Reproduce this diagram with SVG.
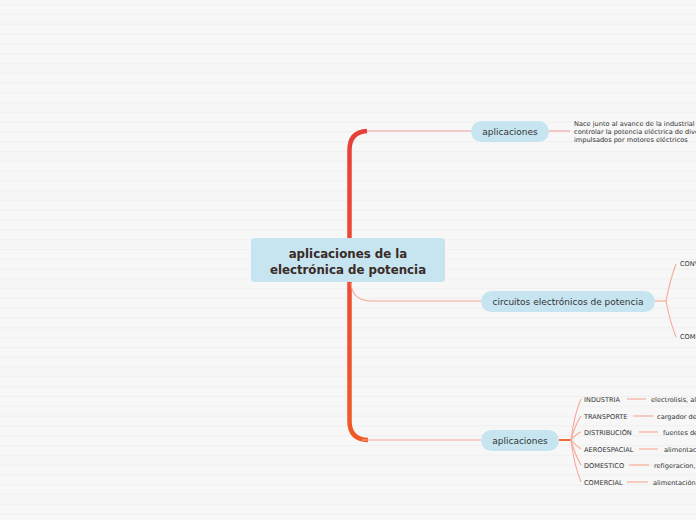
<svg xmlns="http://www.w3.org/2000/svg" width="696" height="520" viewBox="0 0 696 520">
<defs>
<pattern id="bg" width="10" height="9.8" patternUnits="userSpaceOnUse">
<rect width="10" height="9.8" fill="#f7f7f7"/>
<rect y="4" width="10" height="1" fill="#f0f0f0"/>
</pattern>
<linearGradient id="trunk" x1="0" y1="131" x2="0" y2="440" gradientUnits="userSpaceOnUse">
<stop offset="0" stop-color="#e8403a"/>
<stop offset="1" stop-color="#f05a26"/>
</linearGradient>
</defs>
<style>
.node{fill:#c6e5f0}
.t{font-family:"DejaVu Sans",Verdana,sans-serif;fill:#333}
.main{font-size:11.8px;font-weight:bold;fill:#3a2a26}
.n{font-size:9px}
.s{font-size:6.6px}
.d{font-size:6.6px}
.thin{fill:none;stroke:#f6a996;stroke-width:1.1}
.top{fill:none;stroke:#f3a09c;stroke-width:1.1}
</style>
<rect width="696" height="520" fill="url(#bg)"/>
<g id="connectors">
<path class="top" d="M360,131 H471"/>
<path d="M349.5,240 V150 Q349.5,132 367,131" fill="none" stroke="url(#trunk)" stroke-width="4.5"/>
<path d="M349.5,280 V421 Q349.5,439.5 368,440" fill="none" stroke="url(#trunk)" stroke-width="4.5"/>
<path class="thin" d="M362,440 H481"/>
<path class="thin" d="M351,283 Q352,300 370,301 H481"/>
<path class="top" d="M549,131 H570"/>
<path class="thin" d="M655,301 H667"/>
<path class="thin" d="M666,301 Q670,280 676,264"/>
<path class="thin" d="M666,301 Q670,322 676,337"/>
<path d="M559,440 H572" fill="none" stroke="#f06a36" stroke-width="2"/>
<g class="thin">
<path d="M571,440 Q574,415 581,399"/>
<path d="M571,440 Q575,425 581,416"/>
<path d="M571,440 Q576,434 581,432"/>
<path d="M571,440 Q576,446 581,449"/>
<path d="M571,440 Q575,455 581,465"/>
<path d="M571,440 Q574,465 581,482"/>
<path d="M627,399 H646"/>
<path d="M633,416 H653"/>
<path d="M639,432 H658"/>
<path d="M639,449 H658"/>
<path d="M629,465 H649"/>
<path d="M627,482 H648"/>
</g>
</g>
<g id="central">
<rect class="node" x="251" y="238" width="194" height="44" rx="4"/>
<text class="t main" x="348" y="257.5" text-anchor="middle">aplicaciones de la</text>
<text class="t main" x="348" y="273.5" text-anchor="middle">electrónica de potencia</text>
</g>
<g id="aplicaciones1">
<rect class="node" x="471" y="121" width="78" height="21" rx="10.5"/>
<text class="t n" x="510" y="134.5" text-anchor="middle">aplicaciones</text>
</g>
<g id="desc1">
<text class="t d" x="574" y="126">Nace junto al avance de la  industrial</text>
<text class="t d" x="574" y="134">controlar la potencia eléctrica de dive</text>
<text class="t d" x="574" y="142">impulsados por motores eléctricos</text>
</g>
<g id="circuitos">
<rect class="node" x="481" y="291" width="174" height="21" rx="10.5"/>
<text class="t n" x="568" y="304.5" text-anchor="middle">circuitos electrónicos de potencia</text>
</g>
<g id="conv"><text class="t s" x="680" y="266">CONV</text></g>
<g id="com"><text class="t s" x="680" y="339">COMI</text></g>
<g id="aplicaciones2">
<rect class="node" x="481" y="430" width="78" height="21" rx="10.5"/>
<text class="t n" x="520" y="443.5" text-anchor="middle">aplicaciones</text>
</g>
<g id="industria"><text class="t s" x="584" y="401.5">INDUSTRIA</text><text class="t s" x="651" y="401.5">electrolisis, al</text></g>
<g id="transporte"><text class="t s" x="584" y="418.5">TRANSPORTE</text><text class="t s" x="657" y="418.5">cargador de</text></g>
<g id="distribucion"><text class="t s" x="584" y="434.5">DISTRIBUCIÓN</text><text class="t s" x="663" y="434.5">fuentes de</text></g>
<g id="aeroespacial"><text class="t s" x="584" y="451.5">AEROESPACIAL</text><text class="t s" x="664" y="451.5">alimentac</text></g>
<g id="domestico"><text class="t s" x="584" y="467.5">DOMESTICO</text><text class="t s" x="654" y="467.5">refigeracion,</text></g>
<g id="comercial"><text class="t s" x="584" y="484.5">COMERCIAL</text><text class="t s" x="653" y="484.5">alimentación</text></g>
</svg>
